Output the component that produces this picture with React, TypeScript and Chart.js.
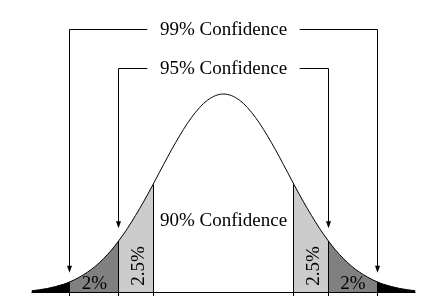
import React, { useEffect, useRef } from 'react';
import { Chart, registerables } from 'chart.js';

Chart.register(...registerables);

// z positions (standard deviations) and relative curve heights
const Z_POINTS = [-3, -2.75, -2.5, -2.4, -2.25, -2, -1.75, -1.64, -1.5, -1.25, -1.1, -1, -0.75, -0.5, -0.25, 0, 0.25, 0.5, 0.75, 1, 1.1, 1.25, 1.5, 1.64, 1.75, 2, 2.25, 2.4, 2.5, 2.75, 3];
const HEIGHTS = [0.011, 0.023, 0.044, 0.056, 0.08, 0.135, 0.216, 0.261, 0.325, 0.458, 0.546, 0.607, 0.755, 0.882, 0.969, 1.0, 0.969, 0.882, 0.755, 0.607, 0.546, 0.458, 0.325, 0.261, 0.216, 0.135, 0.08, 0.056, 0.044, 0.023, 0.011];

// region boundaries (z)
const BOUND_90 = 1.1;
const BOUND_95 = 1.64;
const BOUND_99 = 2.4;

const CONF_LABELS = ['99% Confidence', '95% Confidence', '90% Confidence'];
const TAIL_LABELS = ['2%', '2.5%'];

const FONT = '19px "Liberation Serif", "Times New Roman", serif';

function pts(a: number, b: number) {
  const out: { x: number; y: number }[] = [];
  Z_POINTS.forEach((z, i) => {
    if (z >= a - 1e-9 && z <= b + 1e-9) out.push({ x: z, y: HEIGHTS[i] });
  });
  return out;
}

function heightAt(z: number) {
  const i = Z_POINTS.findIndex((v) => Math.abs(v - z) < 1e-9);
  return i >= 0 ? HEIGHTS[i] : 0;
}

const crisp = (v: number) => Math.round(v - 0.5) + 0.5;

const overlay = {
  id: 'overlay',
  afterDatasetsDraw(chart: any) {
    const ctx = chart.ctx as CanvasRenderingContext2D;
    const xs = chart.scales.x;
    const ys = chart.scales.y;
    const px = (z: number) => xs.getPixelForValue(z);
    const py = (v: number) => ys.getPixelForValue(v);
    ctx.save();
    ctx.strokeStyle = '#000';
    ctx.fillStyle = '#000';
    ctx.lineWidth = 1;

    // baseline
    ctx.beginPath();
    ctx.moveTo(px(-3), crisp(py(0)));
    ctx.lineTo(px(3), crisp(py(0)));
    ctx.stroke();

    // boundary verticals
    const bottom = chart.chartArea.bottom;
    [-BOUND_99, -BOUND_95, -BOUND_90, BOUND_90, BOUND_95, BOUND_99].forEach((b) => {
      const x = crisp(px(b));
      ctx.beginPath();
      ctx.moveTo(x, py(heightAt(b)));
      ctx.lineTo(x, bottom);
      ctx.stroke();
    });

    // brackets with arrows
    const gap = 1.19;
    const brackets = [
      { bound: BOUND_99, level: 1.325, tip: 0.102, label: CONF_LABELS[0], textY: 1.2965 },
      { bound: BOUND_95, level: 1.129, tip: 0.325, label: CONF_LABELS[1], textY: 1.1005 },
    ];
    brackets.forEach((br) => {
      const yl = crisp(py(br.level));
      const yt = py(br.tip);
      [-1, 1].forEach((s) => {
        const xv = crisp(px(s * br.bound));
        const xg = px(s * gap);
        ctx.beginPath();
        ctx.moveTo(xg, yl);
        ctx.lineTo(xv, yl);
        ctx.lineTo(xv, yt - 5);
        ctx.stroke();
        ctx.beginPath();
        ctx.moveTo(xv - 2.5, yt - 7);
        ctx.lineTo(xv + 2.5, yt - 7);
        ctx.lineTo(xv, yt);
        ctx.closePath();
        ctx.fill();
      });
      ctx.font = FONT;
      ctx.textAlign = 'center';
      ctx.textBaseline = 'alphabetic';
      ctx.fillText(br.label, px(0), py(br.textY));
    });

    ctx.font = FONT;
    ctx.textAlign = 'center';
    ctx.textBaseline = 'alphabetic';
    ctx.fillText(CONF_LABELS[2], px(0), py(0.3367));

    // tail labels
    ctx.fillText(TAIL_LABELS[0], px(-2.016), py(0.0176));
    ctx.fillText(TAIL_LABELS[0], px(2.023), py(0.0176));
    [-1.242, 1.4875].forEach((z) => {
      ctx.save();
      ctx.translate(px(z), py(0.1357));
      ctx.rotate(-Math.PI / 2);
      ctx.fillText(TAIL_LABELS[1], 0, 0);
      ctx.restore();
    });

    ctx.restore();
  },
};

export default function App() {
  const ref = useRef<HTMLCanvasElement>(null);
  useEffect(() => {
    document.body.style.margin = '0';
    if (!ref.current) return;
    const region = (a: number, b: number, color: string) => ({
      data: pts(a, b),
      borderWidth: 0,
      borderColor: 'rgba(0,0,0,0)',
      backgroundColor: color,
      fill: 'origin',
      pointRadius: 0,
      cubicInterpolationMode: 'monotone' as const,
    });
    const chart = new Chart(ref.current, {
      type: 'line',
      data: {
        datasets: [
          {
            data: pts(-3, 3),
            borderColor: '#000',
            borderWidth: 1,
            fill: false,
            pointRadius: 0,
            cubicInterpolationMode: 'monotone',
          },
          region(-3, -BOUND_99, '#000000'),
          region(BOUND_99, 3, '#000000'),
          region(-BOUND_99, -BOUND_95, '#808080'),
          region(BOUND_95, BOUND_99, '#808080'),
          region(-BOUND_95, -BOUND_90, '#cccccc'),
          region(BOUND_90, BOUND_95, '#cccccc'),
        ] as any,
      },
      options: {
        animation: false,
        responsive: false,
        layout: { padding: { left: 31.5, right: 9.5, top: 0, bottom: 0 } },
        scales: {
          x: { type: 'linear', min: -3, max: 3, display: false },
          y: { min: -0.01508, max: 1.4724, display: false },
        },
        plugins: { legend: { display: false }, tooltip: { enabled: false } },
      },
      plugins: [overlay],
    });
    return () => chart.destroy();
  }, []);
  return (
    <div style={{ position: 'absolute', left: 0, top: 0, width: 425, height: 296 }}>
      <canvas ref={ref} width={425} height={296} />
    </div>
  );
}
